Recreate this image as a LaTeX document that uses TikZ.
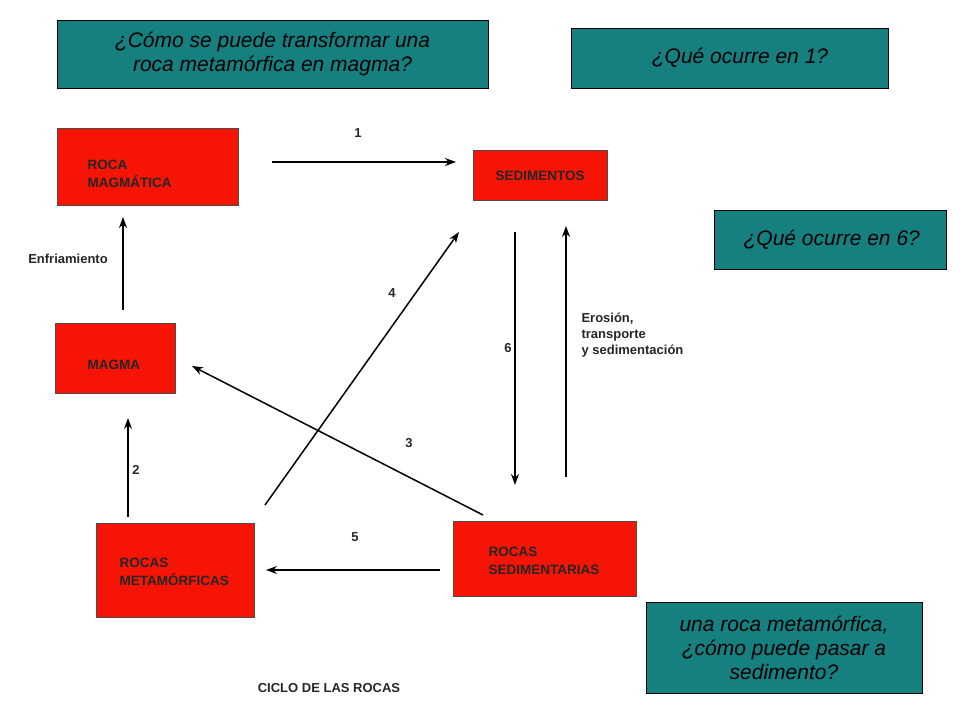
\documentclass[tikz,border=0pt]{standalone}
\usepackage{fontspec}
\setmainfont{Liberation Sans}
\usetikzlibrary{arrows.meta}
\definecolor{tealbox}{RGB}{22,128,128}
\definecolor{redbox}{RGB}{245,20,5}
\begin{document}
\begin{tikzpicture}[x=1pt,y=-1pt,
  q/.style={draw=black,fill=tealbox,line width=0.8pt,font=\fontsize{21}{24}\selectfont\itshape,align=center,inner sep=0pt},
  rb/.style={draw=black!70,fill=redbox,line width=1pt,inner sep=0pt},
  rt/.style={font=\fontsize{13.5}{18}\selectfont\bfseries,align=left,anchor=west,text=black!85},
  arr/.style={-{Stealth[length=11pt,width=8pt]},line width=1.5pt},
  lb/.style={font=\fontsize{13}{16}\selectfont\bfseries,text=black!85}]
\useasboundingbox (0,0) rectangle (960,720);
% question boxes
\node[q,minimum width=431,minimum height=68] (qa) at (272.5,54) {¿Cómo se puede transformar una\\roca metamórfica en magma?};
\node[q,minimum width=317,minimum height=60] (qb) at (729.5,58) {\quad¿Qué ocurre en 1?};
\node[q,minimum width=232,minimum height=59] (qc) at (830,239.5) {\,¿Qué ocurre en 6?};
\node[q,minimum width=276,minimum height=91] (qd) at (784,647.5) {una roca metamórfica,\\¿cómo puede pasar a\\sedimento?};
% red boxes
\node[rb,minimum width=181,minimum height=77] (rm) at (147.5,166.5) {};
\node[rt] at (84,174) {ROCA\\MAGMÁTICA};
\node[rb,minimum width=134,minimum height=50] (sed) at (540,175) {};
\node[rt] at (492,176) {SEDIMENTOS};
\node[rb,minimum width=120,minimum height=70] (mag) at (115,358) {};
\node[rt] at (84,365) {MAGMA};
\node[rb,minimum width=158,minimum height=94] (met) at (175,570) {};
\node[rt] at (116,572) {ROCAS\\METAMÓRFICAS};
\node[rb,minimum width=183,minimum height=75] (rs) at (544.5,558.5) {};
\node[rt] at (485,561) {ROCAS\\SEDIMENTARIAS};
% anchor coordinates
\coordinate (a1s) at (272,162); \coordinate (a1e) at (456,162);
\coordinate (ens) at (123,310); \coordinate (ene) at (123,217);
\coordinate (a2s) at (128,517); \coordinate (a2e) at (128,418);
\coordinate (a4s) at (265,505); \coordinate (a4e) at (459,232);
\coordinate (a3s) at (483,515); \coordinate (a3e) at (192,366);
\coordinate (a5s) at (440,570); \coordinate (a5e) at (266,570);
\coordinate (a6s) at (515,232); \coordinate (a6e) at (515,485);
\coordinate (ers) at (566,477); \coordinate (ere) at (566,226);
\draw[arr] (a1s) -- (a1e);
\draw[arr] (ens) -- (ene);
\draw[arr] (a2s) -- (a2e);
\draw[arr] (a4s) -- (a4e);
\draw[arr] (a3s) -- (a3e);
\draw[arr] (a5s) -- (a5e);
\draw[arr] (a6s) -- (a6e);
\draw[arr] (ers) -- (ere);
% labels
\node[lb] (l1) at (358,133) {1};
\node[lb] (len) at (68,259) {Enfriamiento};
\node[lb] (l2) at (136,470) {2};
\node[lb] (l4) at (392,293) {4};
\node[lb] (l3) at (409,443) {3};
\node[lb] (l5) at (355,537) {5};
\node[lb] (l6) at (508,348) {6};
\node[lb,align=left,anchor=west] (ler) at (578,335) {Erosión,\\transporte\\y sedimentación};
\node[lb] (title) at (329,688) {CICLO DE LAS ROCAS};
\end{tikzpicture}
\end{document}
